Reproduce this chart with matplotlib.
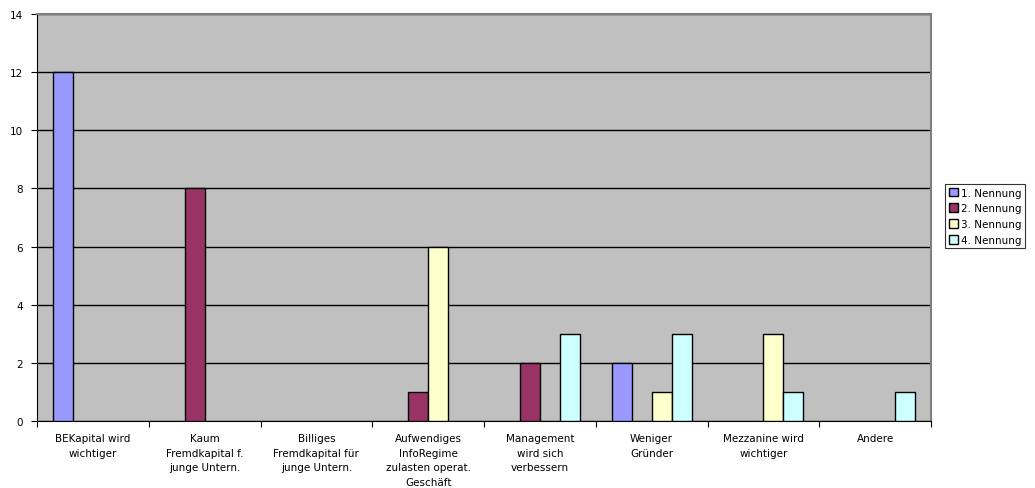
import matplotlib
matplotlib.use("Agg")
import matplotlib.pyplot as plt
import numpy as np

categories = [
    "BEKapital wird\nwichtiger",
    "Kaum\nFremdkapital f.\njunge Untern.",
    "Billiges\nFremdkapital für\njunge Untern.",
    "Aufwendiges\nInfoRegime\nzulasten operat.\nGeschäft",
    "Management\nwird sich\nverbessern",
    "Weniger\nGründer",
    "Mezzanine wird\nwichtiger",
    "Andere",
]
series_names = ["1. Nennung", "2. Nennung", "3. Nennung", "4. Nennung"]
nennung1 = [12, 0, 0, 0, 0, 2, 0, 0]
nennung2 = [0, 8, 0, 1, 2, 0, 0, 0]
nennung3 = [0, 0, 0, 6, 0, 1, 3, 0]
nennung4 = [0, 0, 0, 0, 3, 3, 1, 1]
colors = ["#9999FF", "#993366", "#FFFFCC", "#CCFFFF"]

plt.rcParams["font.family"] = ["DejaVu Sans"]

fig = plt.figure(figsize=(10.35, 4.89), dpi=100)
ax = fig.add_axes([37 / 1035, 1 - 422 / 489, (931 - 37) / 1035, (422 - 15) / 489])
ax.set_facecolor("#C0C0C0")

x = np.arange(len(categories))
w = 0.179
for i, (vals, name, c) in enumerate(zip([nennung1, nennung2, nennung3, nennung4],
                                        series_names, colors)):
    v = np.array(vals, dtype=float)
    v[v == 0] = np.nan  # leere Balken nicht zeichnen
    ax.bar(x + (i - 1.5) * w, v, w, color=c, edgecolor="black", lw=1,
           label=name, zorder=3)

ax.set_xlim(-0.5, len(categories) - 0.5)
ax.set_ylim(0, 14)
ax.set_yticks(range(0, 15, 2))
ax.yaxis.grid(True, color="black", lw=1, zorder=1)
ax.set_axisbelow(True)

ax.set_xticks(np.arange(len(categories) + 1) - 0.5)
ax.set_xticklabels([])
ax.set_xticks(x, minor=True)
ax.set_xticklabels(categories, minor=True, fontsize=7.5, linespacing=1.55)
ax.tick_params(axis="x", which="minor", length=0, pad=9)
ax.tick_params(axis="x", which="major", length=4, direction="out")
ax.tick_params(axis="y", length=4, direction="out", labelsize=7.5, pad=6)

for s in ["top", "right"]:
    ax.spines[s].set_color("#808080")
    ax.spines[s].set_linewidth(1.5)
ax.spines["left"].set_color("black")
ax.spines["bottom"].set_color("black")

leg = fig.legend(loc="upper left", bbox_to_anchor=(945 / 1035, 1 - 185 / 489),
                 fontsize=7.5, frameon=True, fancybox=False, edgecolor="black",
                 handlelength=0.9, handleheight=0.9, handletextpad=0.3,
                 borderpad=0.35, labelspacing=0.55, borderaxespad=0)
leg.get_frame().set_linewidth(0.8)

fig.savefig("out.png", dpi=100)
